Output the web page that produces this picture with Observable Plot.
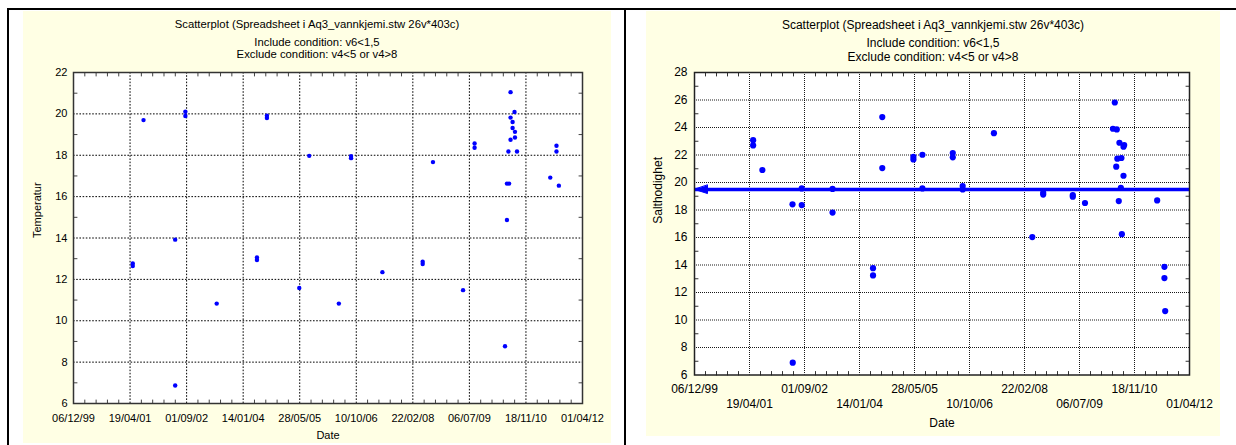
<!DOCTYPE html>
<html>
<head>
<meta charset="utf-8">
<script src="https://cdn.jsdelivr.net/npm/d3@7"></script>
<script src="https://cdn.jsdelivr.net/npm/@observablehq/plot@0.6"></script>
<style>
  html, body { margin: 0; padding: 0; background: #fff; }
  #root { position: relative; width: 1236px; height: 445px; background: #fff; overflow: hidden; font-family: "Liberation Sans", Arial, sans-serif; }
  .line { position: absolute; background: #000; }
  .panel { position: absolute; background: #ffffe4; }
  .panel svg { position: absolute; left: 0; top: 0; }
  .title { position: absolute; left: 0; width: 100%; text-align: center; color: #000; white-space: nowrap; line-height: 1; transform: translateY(-50%); }
</style>
</head>
<body>
<div id="root">
  <div class="line" style="left:7px;top:8px;width:1229px;height:2px"></div>
  <div class="line" style="left:7px;top:8px;width:2px;height:437px"></div>
  <div class="line" style="left:624px;top:8px;width:2px;height:437px"></div>
  <div class="panel" id="p1" style="left:23px;top:11px;width:588px;height:432px"></div>
  <div class="panel" id="p2" style="left:646px;top:11px;width:574px;height:425px"></div>
</div>
<script>
// ---------- data ----------
const titleLines = [
  "Scatterplot (Spreadsheet i Aq3_vannkjemi.stw 26v*403c)",
  "Include condition: v6<1,5",
  "Exclude condition: v4<5 or v4>8"
];
const xTickLabels = ["06/12/99", "19/04/01", "01/09/02", "14/01/04", "28/05/05", "10/10/06", "22/02/08", "06/07/09", "18/11/10", "01/04/12"];
const tempYTicks = [6, 8, 10, 12, 14, 16, 18, 20, 22];
const saltYTicks = [6, 8, 10, 12, 14, 16, 18, 20, 22, 24, 26, 28];
const xLabel = "Date";
const tempLabel = "Temperatur";
const saltLabel = "Salthodighet";

const tempDates = [
  "2001-05-13", "2001-05-13", "2001-08-16", "2002-05-23", "2002-05-23", "2002-08-21", "2002-08-21",
  "2003-05-25", "2004-05-15", "2004-05-15", "2004-08-11", "2004-08-11", "2005-05-24", "2005-08-20",
  "2006-05-09", "2006-08-25", "2006-08-25", "2007-05-29", "2008-05-19", "2008-05-19", "2008-08-18",
  "2009-05-11", "2009-08-21", "2009-08-21", "2010-05-17", "2010-06-03", "2010-06-03", "2010-06-22",
  "2010-06-16", "2010-07-05", "2010-07-05", "2010-07-05", "2010-07-23", "2010-07-23", "2010-08-09",
  "2010-08-13", "2010-08-13", "2010-08-31", "2011-06-21", "2011-08-15", "2011-08-15", "2011-09-05"
];
const tempValues = [
  12.77, 12.65, 19.70, 13.92, 6.87, 20.10, 19.90,
  10.83, 13.06, 12.94, 19.91, 19.80, 11.58, 17.97,
  10.83, 17.96, 17.86, 12.35, 12.85, 12.74, 17.67,
  11.48, 18.57, 18.36, 8.77, 14.87, 16.63, 16.63,
  18.18, 21.05, 19.82, 18.75, 19.61, 19.32, 20.09,
  19.13, 18.86, 18.18, 16.92, 18.46, 18.18, 16.53
];

const saltDates = [
  "2001-05-22", "2001-05-22", "2001-08-14", "2002-05-15", "2002-05-17", "2002-08-07", "2002-08-07",
  "2003-05-14", "2003-05-14", "2004-05-16", "2004-05-16", "2004-08-08", "2004-08-08", "2005-05-18",
  "2005-05-18", "2005-08-08", "2005-08-08", "2006-05-11", "2006-05-11", "2006-08-09", "2006-08-09",
  "2007-05-20", "2008-05-03", "2008-08-10", "2008-08-10", "2009-05-06", "2009-05-06", "2009-08-25",
  "2010-05-06", "2010-05-23", "2010-06-05", "2010-06-10", "2010-06-15", "2010-06-28", "2010-07-04",
  "2010-07-17", "2010-07-22", "2010-07-26", "2010-08-10", "2010-08-10", "2010-08-16", "2011-06-12",
  "2011-08-17", "2011-08-17", "2011-08-24"
];
const saltValues = [
  23.08, 22.70, 20.91, 18.41, 6.90, 19.57, 18.36,
  19.53, 17.81, 13.77, 13.24, 24.76, 21.05, 21.87,
  21.68, 22.02, 19.57, 22.14, 21.83, 19.74, 19.50,
  23.59, 16.03, 19.25, 19.12, 19.09, 18.97, 18.51,
  23.91, 25.82, 21.15, 23.86, 21.73, 18.65, 22.89,
  19.62, 21.78, 16.24, 22.60, 20.49, 22.72, 18.70,
  13.87, 13.05, 10.65
];
const saltReference = 19.5;

// ---------- helpers ----------
const parseTick = d3.utcParse("%d/%m/%y");
const fmtTick = d3.utcFormat("%d/%m/%y");
const xTicks = xTickLabels.map(parseTick);
const tempData = tempDates.map((d, i) => ({date: d3.utcParse("%Y-%m-%d")(d), value: tempValues[i]}));
const saltData = saltDates.map((d, i) => ({date: d3.utcParse("%Y-%m-%d")(d), value: saltValues[i]}));

// minor ticks: 4 between consecutive major x ticks, 1 between major y ticks
const xMinor = [];
for (let i = 0; i < xTicks.length - 1; i++) {
  const a = +xTicks[i], b = +xTicks[i + 1];
  for (let k = 1; k < 5; k++) xMinor.push(new Date(a + (b - a) * k / 5));
}
const yMinor = ticks => ticks.slice(0, -1).map((t, i) => (t + ticks[i + 1]) / 2);

const tickShape = {draw(ctx, l) { ctx.moveTo(0, 0); ctx.lineTo(0, -l); }};
const headShape = {draw(ctx, l) { ctx.moveTo(0, -l); ctx.lineTo(-4.2, 0); ctx.lineTo(4.2, 0); ctx.closePath(); }};

function minorTickMarks(yTicks, color) {
  const ym = yMinor(yTicks);
  const common = {length: 3.5, anchor: "start", shape: tickShape, stroke: color, strokeWidth: 1};
  return [
    Plot.vector(xMinor, {x: d => d, frameAnchor: "bottom", rotate: 0, ...common}),
    Plot.vector(xMinor, {x: d => d, frameAnchor: "top", rotate: 180, ...common}),
    Plot.vector(ym, {y: d => d, frameAnchor: "left", rotate: 90, ...common}),
    Plot.vector(ym, {y: d => d, frameAnchor: "right", rotate: -90, ...common})
  ];
}

function addTitles(panel, tops, size) {
  titleLines.forEach((t, i) => {
    const div = document.createElement("div");
    div.className = "title";
    div.style.top = tops[i] + "px";
    div.style.fontSize = size + "px";
    div.textContent = t;
    panel.appendChild(div);
  });
}

// ---------- left panel: Temperatur ----------
const p1 = document.getElementById("p1");
addTitles(p1, [14, 32, 44], 11.3);
const chart1 = Plot.plot({
  width: 588,
  height: 432,
  marginLeft: 50,
  marginRight: 29,
  marginTop: 61,
  marginBottom: 40,
  x: {type: "utc", domain: [xTicks[0], xTicks[xTicks.length - 1]]},
  y: {domain: [tempYTicks[0], tempYTicks[tempYTicks.length - 1]]},
  style: {background: "transparent", fontFamily: "Liberation Sans, Arial, sans-serif", fontSize: "11px", color: "#000", overflow: "visible"},
  marks: [
    Plot.frame({fill: "white", stroke: null}),
    Plot.gridX(xTicks.slice(1, -1), {stroke: "#000", strokeOpacity: 1, strokeDasharray: "1.6,1.6"}),
    Plot.gridY(tempYTicks.slice(1, -1), {stroke: "#000", strokeOpacity: 1, strokeDasharray: "1.6,1.6"}),
    ...minorTickMarks(tempYTicks, "#444"),
    Plot.axisX(xTicks, {tickSize: 0, tickPadding: 10.5, tickFormat: fmtTick, label: null}),
    Plot.axisY(tempYTicks, {tickSize: 0, tickPadding: 6, label: null}),
    Plot.dot(tempData, {x: "date", y: "value", r: 2.2, fill: "#0000ff", stroke: null}),
    Plot.frame({stroke: "#333", strokeWidth: 1.5}),
    Plot.text([tempLabel], {frameAnchor: "left", dx: -36, rotate: -90, fontSize: 11}),
    Plot.text([xLabel], {frameAnchor: "bottom", dy: 35.5, fontSize: 11})
  ]
});
p1.appendChild(chart1);

// ---------- right panel: Salthodighet ----------
const p2 = document.getElementById("p2");
addTitles(p2, [14, 32, 45.5], 12);
const chart2 = Plot.plot({
  width: 574,
  height: 425,
  marginLeft: 48,
  marginRight: 31,
  marginTop: 61,
  marginBottom: 61.5,
  x: {type: "utc", domain: [xTicks[0], xTicks[xTicks.length - 1]]},
  y: {domain: [saltYTicks[0], saltYTicks[saltYTicks.length - 1]]},
  style: {background: "transparent", fontFamily: "Liberation Sans, Arial, sans-serif", fontSize: "12px", color: "#000", overflow: "visible"},
  marks: [
    Plot.frame({fill: "white", stroke: null}),
    Plot.gridX(xTicks.slice(1, -1), {stroke: "#000", strokeOpacity: 0.9, strokeDasharray: "1,1"}),
    Plot.gridY(saltYTicks.slice(1, -1), {stroke: "#000", strokeOpacity: 0.9, strokeDasharray: "1,1"}),
    ...minorTickMarks(saltYTicks, "#333"),
    Plot.axisX(xTicks.filter((d, i) => i % 2 === 0), {tickSize: 0, tickPadding: 9.5, tickFormat: fmtTick, label: null}),
    Plot.axisX(xTicks.filter((d, i) => i % 2 === 1), {tickSize: 0, tickPadding: 24.5, tickFormat: fmtTick, label: null}),
    Plot.axisY(saltYTicks, {tickSize: 0, tickPadding: 7, label: null}),
    Plot.dot(saltData, {x: "date", y: "value", r: 3.1, fill: "#0000ff", stroke: null}),
    Plot.ruleY([saltReference], {stroke: "#0000ff", strokeWidth: 3.5}),
    Plot.vector([saltReference], {y: d => d, frameAnchor: "left", rotate: -90, length: 13, anchor: "end", shape: headShape, fill: "#0000ff", stroke: "#0000ff", strokeWidth: 1}),
    Plot.frame({stroke: "#222", strokeWidth: 1.5}),
    Plot.text([saltLabel], {frameAnchor: "left", dx: -36, rotate: -90, fontSize: 12}),
    Plot.text([xLabel], {frameAnchor: "bottom", dy: 52, fontSize: 12})
  ]
});
p2.appendChild(chart2);
</script>
</body>
</html>
